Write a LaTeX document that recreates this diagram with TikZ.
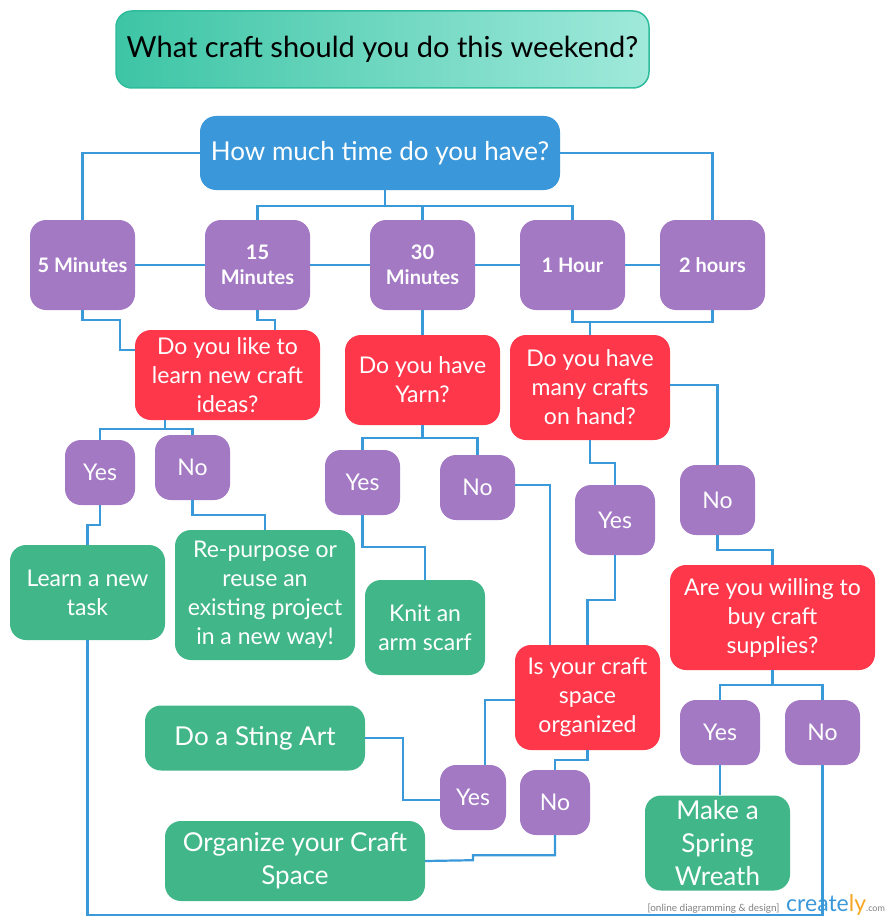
\documentclass[tikz,border=0pt]{standalone}
\usepackage{fontspec}
\setmainfont{Lato}
\usetikzlibrary{calc}
\definecolor{cpurple}{HTML}{A379C4}
\definecolor{cred}{HTML}{FE374B}
\definecolor{cgreen}{HTML}{41B789}
\definecolor{cblue}{HTML}{3A98DA}
\definecolor{cline}{HTML}{3A9AD9}
\definecolor{ttlL}{HTML}{3DC5A5}
\definecolor{ttlR}{HTML}{A0E9DB}
\definecolor{ttlB}{HTML}{2FBC9D}
\definecolor{crorange}{HTML}{F5A623}
\begin{document}
\begin{tikzpicture}[x=1pt,y=-1pt,
  box/.style={rounded corners=16pt, text=white, align=center, inner sep=0pt, draw=none},
  tbox/.style={box, fill=cpurple, font=\fontsize{20}{25}\selectfont\bfseries},
  ans/.style={box, fill=cpurple, font=\fontsize{23}{28}\selectfont},
  qbox/.style={box, fill=cred, font=\fontsize{23}{29}\selectfont},
  gbox/.style={box, fill=cgreen, font=\fontsize{23}{29}\selectfont},
  gbig/.style={box, fill=cgreen, font=\fontsize{26}{33}\selectfont},
  conn/.style={draw=cline, line width=2.2pt},
]
\useasboundingbox (0,0) rectangle (885,923);
% title
\node[rounded corners=16pt, left color=ttlL, right color=ttlR, draw=ttlB, line width=1.5pt,
  minimum width=533pt, minimum height=77pt, font=\fontsize{29}{32}\selectfont, text=black]
  (title) at (382.5,49.5) {What craft should you do this weekend?};
% main question
\node[box, fill=cblue, minimum width=360pt, minimum height=74pt, font=\fontsize{26}{32}\selectfont]
  (q) at (380,153) {How much time do you have?};
% time boxes
\node[tbox, minimum width=105pt, minimum height=90pt] (m5) at (82.5,265) {5 Minutes};
\node[tbox, minimum width=105pt, minimum height=90pt] (m15) at (257.5,265) {15\\Minutes};
\node[tbox, minimum width=105pt, minimum height=90pt] (m30) at (422.5,265) {30\\Minutes};
\node[tbox, minimum width=105pt, minimum height=90pt] (h1) at (572.5,265) {1 Hour};
\node[tbox, minimum width=105pt, minimum height=90pt] (h2) at (712.5,265) {2 hours};
% questions
\node[qbox, minimum width=185pt, minimum height=90pt] (like) at (227.5,375) {Do you like to\\learn new craft\\ideas?};
\node[qbox, minimum width=155pt, minimum height=90pt] (yarn) at (422.5,380) {Do you have\\Yarn?};
\node[qbox, minimum width=160pt, minimum height=105pt] (many) at (590,387.5) {Do you have\\many crafts\\on hand?};
\node[qbox, minimum width=205pt, minimum height=105pt] (willing) at (772.5,617.5) {Are you willing to\\buy craft\\supplies?};
\node[qbox, minimum width=145pt, minimum height=105pt] (space) at (587.5,697.5) {Is your craft\\space\\organized};
% answers
\node[ans, minimum width=70pt, minimum height=65pt] (y1) at (100,472.5) {Yes};
\node[ans, minimum width=75pt, minimum height=65pt] (n1) at (192.5,467.5) {No};
\node[ans, minimum width=75pt, minimum height=65pt] (y3) at (362.5,482.5) {Yes};
\node[ans, minimum width=75pt, minimum height=65pt] (n3) at (477.5,487.5) {No};
\node[ans, minimum width=80pt, minimum height=70pt] (y2) at (615,520) {Yes};
\node[ans, minimum width=75pt, minimum height=70pt] (n2) at (717.5,500) {No};
\node[ans, minimum width=66pt, minimum height=65pt] (y4) at (473,797.5) {Yes};
\node[ans, minimum width=70pt, minimum height=65pt] (n4) at (555,802.5) {No};
\node[ans, minimum width=80pt, minimum height=65pt] (y5) at (720,732.5) {Yes};
\node[ans, minimum width=75pt, minimum height=65pt] (n5) at (822.5,732.5) {No};
% results
\node[gbox, minimum width=155pt, minimum height=95pt] (learn) at (87.5,592.5) {Learn a new\\task};
\node[gbox, minimum width=180pt, minimum height=130pt] (repurp) at (265,595) {Re-purpose or\\reuse an\\existing project\\in a new way!};
\node[gbox, minimum width=120pt, minimum height=95pt] (knit) at (425,627.5) {Knit an\\arm scarf};
\node[gbig, minimum width=220pt, minimum height=65pt] (sting) at (255,738) {Do a Sting Art};
\node[gbig, minimum width=260pt, minimum height=80pt] (org) at (295,861) {Organize your Craft\\Space};
\node[gbig, minimum width=145pt, minimum height=95pt] (wreath) at (717.5,843) {Make a\\Spring\\Wreath};
% connectors
\draw[conn] (q.west) -| (m5.north);
\draw[conn] (q.east) -| (h2.north);
\draw[conn] ([xshift=5pt]q.south) -- ++(0,16) coordinate (qj);
\draw[conn] (m15.north) |- (qj) -| (h1.north);
\draw[conn] (m30.north) -- (m30.north|-qj);
\draw[conn] (m5.east) -- (m15.west);
\draw[conn] (m15.east) -- (m30.west);
\draw[conn] (m30.east) -- (h1.west);
\draw[conn] (h1.east) -- (h2.west);
\draw[conn] (m5.south) |- ++(37.5,10) |- ([yshift=25pt]like.west);
\draw[conn] (m15.south) |- ++(17.5,10) -- ++(0,10);
\draw[conn] (m30.south) -- (yarn.north);
\draw[conn] (h1.south) -- ++(0,12) -| (h2.south);
\draw[conn] (many.north) -- ++(0,-13);
\draw[conn] ([xshift=-62.5pt]like.south) -- ++(0,9) coordinate (lj);
\draw[conn] (y1.north) |- (lj) -| (n1.north);
\draw[conn] (y1.south) -- ++(0,20) -| (learn.north);
\draw[conn] (n1.south) -- ++(0,15) -| (repurp.north);
\draw[conn] (yarn.south) -- ++(0,13) coordinate (yj);
\draw[conn] (y3.north) |- (yj) -| (n3.north);
\draw[conn] (y3.south) -- ++(0,32) -| (knit.north);
\draw[conn] ([yshift=2.5pt]n3.east) -| ([xshift=-37.5pt]space.north);
\draw[conn] ([yshift=2.5pt]many.east) -| (n2.north);
\draw[conn] (many.south) -- ++(0,23) -| (y2.north);
\draw[conn] (y2.south) -- ++(0,45) -| (space.north);
\draw[conn] (n2.south) -- ++(0,15) -| (willing.north);
\draw[conn] (willing.south) -- ++(0,15) coordinate (wj);
\draw[conn] (y5.north) |- (wj) -| (n5.north);
\draw[conn] (y5.south) -- (y5.south|-wreath.north);
\draw[conn] (n5.south) -- ++(0,150) -| (learn.south);
\draw[conn] ([yshift=-2.5pt]space.west) -| ([xshift=12pt]y4.north);
\draw[conn] ([yshift=-2.5pt]y4.west) -- ++(-37,0) |- (sting.east);
\draw[conn] (space.south) -- ++(0,10) -| (n4.north);
\draw[conn] (n4.south) -- ++(0,20) -- ++(-82,0) -- ++(0,5) -- (org.east);
% watermark
\node[anchor=base east, font=\fontsize{10}{11}\selectfont, text=gray] (wm1) at (783,911) {[online diagramming \& design]};
\node[anchor=base west, font=\fontsize{23}{24}\selectfont, inner sep=0pt] (wm2) at (786,911) {\textcolor{cblue}{create}\textcolor{crorange}{ly}\textcolor{gray}{\fontsize{9}{10}\selectfont.com}};
\end{tikzpicture}
\end{document}
